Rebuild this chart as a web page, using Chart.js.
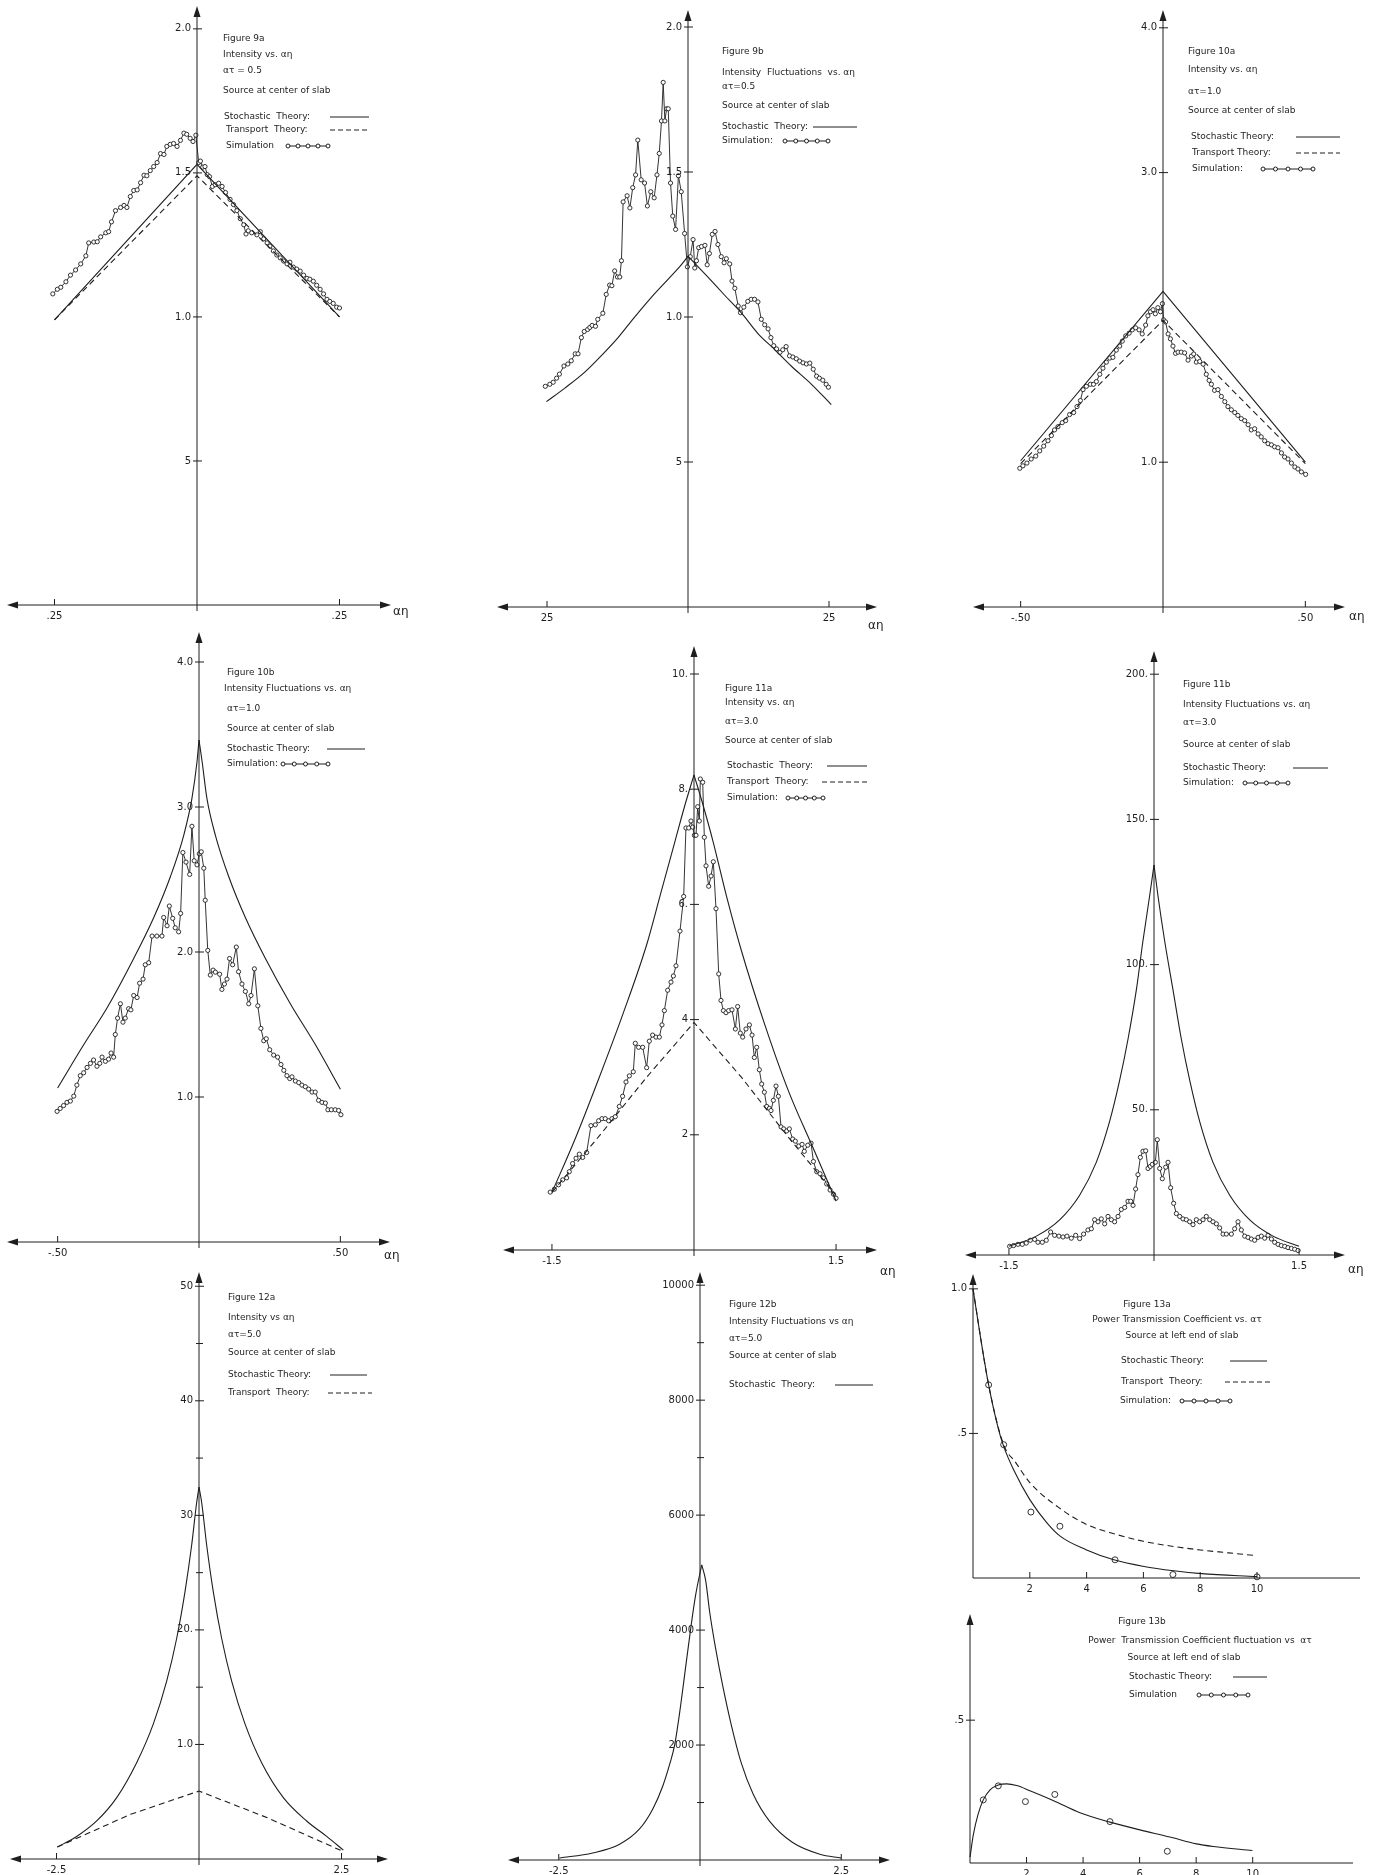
<!DOCTYPE html>
<html>
<head>
<meta charset="utf-8">
<script src="https://cdn.jsdelivr.net/npm/chart.js@4.4.0/dist/chart.umd.min.js"></script>
<style>
  html, body { margin: 0; padding: 0; background: #fff; }
  #page { position: relative; width: 1377px; height: 1875px; overflow: hidden; background: #fff; }
  #page canvas { position: absolute; }
</style>
</head>
<body>
<div id="page"></div>
<script>
// ---- Figure 9a : intensity, at = 0.5
const stoch9aX = [-0.25, 0, 0.25];
const stoch9aY = [0.99, 1.53, 1.0];
const trans9aX = [-0.25, 0, 0.25];
const trans9aY = [0.99, 1.49, 1.0];
const sim9aX = [-0.253,-0.245,-0.239,-0.230,-0.222,-0.213,-0.204,-0.195,-0.190,-0.181,
  -0.175,-0.169,-0.160,-0.155,-0.150,-0.143,-0.134,-0.128,-0.123,-0.117,
  -0.111,-0.105,-0.099,-0.093,-0.088,-0.082,-0.076,-0.070,-0.064,-0.058,
  -0.053,-0.047,-0.041,-0.035,-0.029,-0.023,-0.018,-0.012,-0.007,-0.002,
  0.003,0.006,0.010,0.014,0.018,0.022,0.027,0.032,0.038,0.044,
  0.050,0.058,0.064,0.070,0.076,0.082,0.086,0.090,0.096,0.105,
  0.111,0.117,0.123,0.128,0.134,0.140,0.146,0.152,0.158,0.163,
  0.169,0.175,0.181,0.187,0.193,0.198,0.204,0.210,0.216,0.222,
  0.228,0.233,0.239,0.245,0.250];
const sim9aY = [1.080,1.096,1.103,1.122,1.145,1.163,1.184,1.212,1.257,1.260,
  1.261,1.278,1.292,1.296,1.330,1.369,1.380,1.387,1.380,1.418,
  1.439,1.441,1.466,1.492,1.490,1.508,1.522,1.536,1.567,1.564,
  1.592,1.599,1.602,1.592,1.613,1.638,1.634,1.620,1.609,1.631,
  1.536,1.541,1.520,1.522,1.494,1.487,1.453,1.459,1.464,1.453,
  1.432,1.408,1.390,1.369,1.341,1.320,1.288,1.299,1.292,1.285,
  1.296,1.271,1.257,1.246,1.229,1.215,1.205,1.194,1.184,1.190,
  1.173,1.166,1.159,1.145,1.134,1.131,1.124,1.110,1.096,1.080,
  1.061,1.054,1.047,1.034,1.031];

// ---- Figure 9b : intensity fluctuations, at = 0.5
const stoch9bX = [-0.251,-0.219,-0.183,-0.154,-0.124,-0.095,-0.065,-0.035,-0.012,0,0.035,0.065,0.095,0.124,0.154,0.183,0.219,0.254];
const stoch9bY = [0.708,0.754,0.810,0.866,0.929,0.999,1.068,1.131,1.180,1.21,1.138,1.075,1.013,0.943,0.887,0.831,0.768,0.698];
const sim9bX = [-0.253,-0.245,-0.239,-0.233,-0.228,-0.220,-0.213,-0.207,-0.200,-0.195,
  -0.189,-0.184,-0.178,-0.174,-0.170,-0.164,-0.160,-0.151,-0.145,-0.139,
  -0.135,-0.130,-0.125,-0.121,-0.118,-0.115,-0.108,-0.103,-0.098,-0.093,
  -0.089,-0.083,-0.077,-0.072,-0.066,-0.060,-0.055,-0.051,-0.047,-0.044,
  -0.041,-0.038,-0.035,-0.031,-0.027,-0.022,-0.017,-0.012,-0.006,-0.001,
  0.004,0.009,0.012,0.015,0.019,0.024,0.030,0.034,0.038,0.043,
  0.048,0.053,0.059,0.064,0.068,0.074,0.078,0.083,0.089,0.093,
  0.099,0.106,0.112,0.118,0.124,0.130,0.136,0.142,0.147,0.152,
  0.157,0.163,0.168,0.174,0.180,0.186,0.192,0.198,0.204,0.210,
  0.216,0.222,0.228,0.233,0.239,0.245,0.249];
const sim9bY = [0.761,0.768,0.775,0.789,0.803,0.831,0.838,0.849,0.873,0.873,
  0.929,0.950,0.957,0.964,0.971,0.968,0.992,1.013,1.078,1.110,
  1.108,1.159,1.138,1.138,1.194,1.397,1.418,1.376,1.446,1.490,
  1.610,1.473,1.462,1.383,1.432,1.411,1.490,1.564,1.676,1.809,
  1.676,1.718,1.718,1.462,1.348,1.302,1.487,1.432,1.288,1.173,
  1.208,1.267,1.169,1.194,1.239,1.243,1.247,1.180,1.219,1.285,
  1.295,1.250,1.208,1.187,1.201,1.183,1.124,1.099,1.038,1.015,
  1.034,1.054,1.061,1.061,1.052,0.992,0.973,0.959,0.929,0.901,
  0.890,0.878,0.887,0.898,0.866,0.862,0.856,0.848,0.842,0.838,
  0.841,0.820,0.796,0.789,0.782,0.768,0.758];

// ---- Figure 10a : intensity, at = 1.0
const stoch10aX = [-0.5, 0, 0.5];
const stoch10aY = [1.01, 2.18, 1.0];
const trans10aX = [-0.5, 0, 0.5];
const trans10aY = [0.99, 1.98, 0.99];
const sim10aX = [-0.503,-0.492,-0.478,-0.463,-0.447,-0.433,-0.419,-0.404,-0.392,-0.381,
  -0.369,-0.354,-0.342,-0.328,-0.314,-0.302,-0.290,-0.281,-0.269,-0.255,
  -0.244,-0.234,-0.222,-0.211,-0.199,-0.187,-0.176,-0.164,-0.152,-0.143,
  -0.131,-0.119,-0.108,-0.096,-0.084,-0.073,-0.061,-0.053,-0.044,-0.035,
  -0.027,-0.018,-0.009,-0.002,
  0.002,0.009,0.018,0.026,0.035,0.044,0.053,0.064,0.076,0.088,
  0.100,0.108,0.117,0.129,0.141,0.152,0.162,0.170,0.181,0.193,
  0.205,0.217,0.228,0.240,0.252,0.263,0.275,0.287,0.299,0.310,
  0.322,0.334,0.345,0.357,0.369,0.381,0.392,0.404,0.416,0.427,
  0.439,0.451,0.463,0.474,0.486,0.501];
const sim10aY = [0.958,0.975,0.994,1.022,1.042,1.078,1.111,1.148,1.184,1.223,
  1.245,1.273,1.287,1.329,1.343,1.384,1.426,1.501,1.524,1.538,
  1.538,1.557,1.607,1.649,1.691,1.719,1.724,1.774,1.802,1.836,
  1.872,1.891,1.914,1.928,1.914,1.886,1.947,2.011,2.039,2.053,
  2.025,2.067,2.039,2.095,
  1.983,1.969,1.886,1.852,1.802,1.752,1.760,1.760,1.755,1.705,
  1.733,1.747,1.691,1.696,1.677,1.607,1.565,1.538,1.496,1.501,
  1.454,1.418,1.384,1.362,1.343,1.323,1.301,1.287,1.259,1.223,
  1.231,1.195,1.175,1.148,1.128,1.120,1.106,1.100,1.064,1.036,
  1.022,0.994,0.967,0.953,0.933,0.916];

// ---- Figure 10b : intensity fluctuations, at = 1.0
const stoch10bX = [-0.5,-0.408,-0.325,-0.231,-0.160,-0.101,-0.054,-0.025,-0.007,0,0.011,0.028,0.058,0.105,0.164,0.235,0.323,0.412,0.5];
const stoch10bY = [1.062,1.360,1.615,1.955,2.238,2.521,2.805,3.059,3.314,3.462,3.314,3.059,2.805,2.521,2.238,1.955,1.643,1.360,1.054];
const sim10bX = [-0.502,-0.491,-0.479,-0.467,-0.455,-0.443,-0.432,-0.420,-0.408,-0.396,
  -0.384,-0.373,-0.361,-0.351,-0.343,-0.331,-0.320,-0.311,-0.302,-0.296,
  -0.288,-0.278,-0.269,-0.261,-0.249,-0.241,-0.231,-0.219,-0.210,-0.198,
  -0.190,-0.178,-0.166,-0.149,-0.131,-0.125,-0.113,-0.105,-0.093,-0.084,
  -0.072,-0.065,-0.057,-0.046,-0.033,-0.025,-0.017,-0.007,0.001,0.008,
  0.017,0.022,0.031,0.040,0.050,0.058,0.073,0.081,0.090,0.099,
  0.108,0.119,0.132,0.140,0.152,0.164,0.176,0.184,0.196,0.208,
  0.219,0.229,0.238,0.250,0.264,0.278,0.290,0.300,0.311,0.321,
  0.329,0.341,0.353,0.364,0.376,0.388,0.400,0.411,0.423,0.435,
  0.447,0.456,0.468,0.482,0.494,0.502];
const sim10bY = [0.901,0.921,0.941,0.963,0.972,1.006,1.082,1.147,1.167,1.204,
  1.232,1.255,1.212,1.232,1.275,1.246,1.261,1.303,1.275,1.431,
  1.544,1.643,1.516,1.544,1.609,1.601,1.700,1.686,1.785,1.813,
  1.912,1.926,2.110,2.110,2.110,2.238,2.181,2.317,2.232,2.167,
  2.139,2.266,2.686,2.620,2.535,2.867,2.629,2.601,2.677,2.691,
  2.578,2.357,2.011,1.841,1.875,1.861,1.847,1.742,1.779,1.813,
  1.955,1.912,2.034,1.864,1.779,1.728,1.643,1.700,1.884,1.629,
  1.473,1.388,1.402,1.326,1.289,1.275,1.224,1.184,1.147,1.127,
  1.139,1.110,1.099,1.082,1.071,1.054,1.034,1.034,0.977,0.963,
  0.958,0.912,0.912,0.912,0.907,0.878];

// ---- Figure 11a : intensity, at = 3.0
const stoch11aX = [-1.5,-1.25,-1.0,-0.75,-0.5,-0.35,-0.2,-0.1,0,0.1,0.2,0.35,0.5,0.75,1.0,1.25,1.5];
const stoch11aY = [1.0,1.95,3.0,4.1,5.3,6.2,7.1,7.7,8.25,7.7,7.1,6.1,5.2,3.9,2.75,1.8,0.85];
const trans11aX = [-1.5,-1.0,-0.5,0,0.5,1.0,1.5];
const trans11aY = [1.0,1.98,3.0,3.95,3.0,1.95,0.95];
const sim11aX = [-1.518,-1.475,-1.430,-1.387,-1.345,-1.317,-1.282,-1.246,-1.211,-1.176,
  -1.134,-1.088,-1.042,-1.007,-0.972,-0.937,-0.901,-0.866,-0.831,-0.789,
  -0.754,-0.718,-0.683,-0.641,-0.620,-0.585,-0.542,-0.500,-0.472,-0.437,
  -0.401,-0.366,-0.338,-0.313,-0.278,-0.243,-0.218,-0.190,-0.148,-0.109,
  -0.085,-0.056,-0.032,-0.014,0.004,0.021,0.039,0.056,0.067,0.092,
  0.109,0.127,0.155,0.180,0.204,0.232,0.261,0.285,0.310,0.338,
  0.366,0.401,0.437,0.461,0.489,0.514,0.549,0.585,0.613,0.637,
  0.662,0.690,0.715,0.743,0.768,0.796,0.813,0.838,0.866,0.891,
  0.919,0.947,0.979,1.007,1.042,1.070,1.106,1.141,1.165,1.201,
  1.236,1.261,1.296,1.331,1.366,1.401,1.437,1.472,1.500];
const sim11aY = [1.005,1.055,1.133,1.218,1.253,1.359,1.501,1.593,1.664,1.607,
  1.692,2.159,2.173,2.244,2.280,2.280,2.244,2.280,2.315,2.492,
  2.669,2.917,3.023,3.094,3.589,3.519,3.519,3.165,3.625,3.731,
  3.696,3.696,3.908,4.156,4.510,4.651,4.757,4.934,5.536,6.138,
  7.327,7.327,7.448,7.342,7.200,7.200,7.696,7.448,8.177,8.120,
  7.165,6.669,6.315,6.492,6.740,5.926,4.793,4.333,4.156,4.120,
  4.156,4.170,3.837,4.227,3.766,3.696,3.837,3.908,3.731,3.342,
  3.519,3.129,2.881,2.740,2.492,2.457,2.421,2.598,2.846,2.669,
  2.138,2.103,2.067,2.103,1.926,1.890,1.805,1.834,1.713,1.819,
  1.855,1.536,1.359,1.324,1.253,1.147,1.041,0.970,0.899];

// ---- Figure 11b : intensity fluctuations, at = 3.0
const stoch11bX = [-1.5,-1.217,-0.976,-0.769,-0.597,-0.459,-0.355,-0.269,-0.183,-0.114,-0.045,0,0.041,0.110,0.197,0.283,0.369,0.472,0.610,0.783,0.990,1.231,1.5];
const stoch11bY = [3.0,6.5,12.1,20.6,31.9,46.0,60.2,74.3,91.2,108.2,123.7,134.3,123.7,108.2,91.2,74.3,60.2,46.0,31.9,20.6,12.1,6.5,3.0];
const sim11bX = [-1.493,-1.452,-1.407,-1.362,-1.321,-1.279,-1.234,-1.200,-1.155,-1.114,
  -1.069,-1.028,-0.983,-0.941,-0.900,-0.855,-0.810,-0.769,-0.728,-0.683,
  -0.648,-0.614,-0.579,-0.545,-0.510,-0.476,-0.441,-0.407,-0.372,-0.338,
  -0.303,-0.269,-0.241,-0.217,-0.190,-0.166,-0.141,-0.114,-0.086,-0.062,
  -0.038,-0.017,0.014,0.034,0.059,0.086,0.121,0.145,0.172,0.203,
  0.231,0.266,0.300,0.334,0.369,0.403,0.438,0.472,0.507,0.541,
  0.576,0.610,0.645,0.679,0.714,0.748,0.800,0.834,0.869,0.903,
  0.938,0.972,1.007,1.041,1.076,1.110,1.145,1.179,1.214,1.248,
  1.283,1.317,1.352,1.386,1.421,1.455,1.490];
const sim11bY = [2.97,3.25,3.67,3.67,4.10,5.08,5.37,4.38,4.38,5.08,
  7.91,6.78,6.50,6.21,6.50,5.79,6.78,5.65,7.20,8.62,
  9.04,12.15,11.44,12.43,10.73,13.28,12.15,11.44,13.28,15.68,
  16.38,18.50,18.50,17.09,22.74,27.68,33.62,35.73,35.88,29.80,
  30.51,31.21,31.92,39.69,29.80,26.27,30.23,31.92,23.16,17.80,
  14.27,13.28,12.43,12.15,11.44,10.45,12.15,11.44,12.15,13.28,
  12.15,11.44,10.73,9.32,7.20,7.20,7.20,9.04,11.44,8.62,
  6.50,6.07,5.51,5.08,6.07,6.50,5.79,6.78,5.51,4.38,
  3.67,3.25,2.97,2.54,2.26,1.98,1.55];

// ---- Figure 12a : intensity, at = 5.0
const stoch12aX = [-2.485,-2.146,-1.795,-1.444,-1.094,-0.801,-0.567,-0.392,-0.246,-0.129,-0.041,0,0.047,0.135,0.251,0.398,0.573,0.807,1.099,1.480,1.889,2.240,2.532];
const stoch12aY = [1.05,1.97,3.32,5.36,8.41,11.80,15.53,19.25,23.32,27.39,31.12,32.47,31.12,27.39,23.32,19.25,15.53,11.80,8.41,5.36,3.32,1.97,0.78];
const trans12aX = [-2.485,-1.2,0,1.2,2.532];
const trans12aY = [1.05,3.9,5.93,3.6,0.65];

// ---- Figure 12b : intensity fluctuations, at = 5.0
const stoch12bX = [-2.49,-1.90,-1.43,-1.07,-0.84,-0.66,-0.53,-0.45,-0.35,-0.26,-0.17,-0.08,0.03,0.10,0.17,0.27,0.40,0.55,0.73,0.94,1.23,1.64,2.12,2.50];
const stoch12bY = [34,122,270,540,878,1284,1689,1993,2635,3311,3987,4595,5135,4865,4324,3716,3041,2365,1689,1149,676,304,101,34];

// ---- Figure 13a : power transmission coefficient vs at
const stoch13aX = [0,0.26,0.55,0.9,1.08,1.43,2.0,2.61,3.08,3.98,4.96,6.02,7.07,8.05,10.0];
const stoch13aY = [1.0,0.835,0.668,0.513,0.455,0.374,0.271,0.190,0.144,0.098,0.063,0.040,0.025,0.015,0.005];
const trans13aX = [0,0.55,1.08,1.5,2.0,3.0,4.0,5.0,6.0,7.0,8.0,9.0,10.0];
const trans13aY = [1.0,0.668,0.461,0.40,0.33,0.245,0.185,0.152,0.127,0.11,0.097,0.087,0.077];
const sim13aX = [0.55,1.08,2.04,3.06,5.0,7.04,10.0];
const sim13aY = [0.668,0.461,0.228,0.179,0.063,0.012,0.004];

// ---- Figure 13b : power transmission coefficient fluctuation vs at
const stoch13bX = [0,0.12,0.29,0.47,0.71,1.0,1.30,1.65,2.12,2.94,3.89,4.95,6.01,7.07,8.01,8.6,9.99];
const stoch13bY = [0.02,0.10,0.172,0.221,0.256,0.273,0.277,0.271,0.253,0.219,0.176,0.143,0.116,0.091,0.067,0.058,0.044];
const sim13bX = [0.47,1.0,1.96,3.0,4.95,6.98];
const sim13bY = [0.221,0.27,0.215,0.240,0.145,0.041];

// tick values and labels as printed on the sheet
const yTicks9 = [2.0, 1.5, 1.0, 0.5];
const yLabels9 = ['2.0', '1.5', '1.0', '5'];
const yTicks10a = [4, 3, 1];
const yLabels10a = ['4.0', '3.0', '1.0'];
const yTicks10b = [4, 3, 2, 1];
const yLabels10b = ['4.0', '3.0', '2.0', '1.0'];
const yTicks11a = [10, 8, 6, 4, 2];
const yLabels11a = ['10.', '8.', '6.', '4', '2'];
const yTicks11b = [200, 150, 100, 50];
const yLabels11b = ['200.', '150.', '100.', '50.'];
const yTicks12a = [50, 40, 30, 20, 10];
const yLabels12a = ['50', '40', '30', '20.', '1.0'];
const yMinor12a = [45, 35, 25, 15];
const yTicks12b = [10000, 8000, 6000, 4000, 2000];
const yLabels12b = ['10000', '8000', '6000', '4000', '2000'];
const yMinor12b = [9000, 7000, 3000, 1000];
const yTicks13a = [1.0, 0.5];
const yLabels13a = ['1.0', '.5'];
const yTicks13b = [0.5];
const yLabels13b = ['.5'];
const xTicks9 = [-0.25, 0.25];
const xLabels9a = ['.25', '.25'];
const xLabels9b = ['25', '25'];
const xTicks10 = [-0.5, 0.5];
const xLabels10 = ['-.50', '.50'];
const xTicks11 = [-1.5, 1.5];
const xLabels11 = ['-1.5', '1.5'];
const xTicks12 = [-2.5, 2.5];
const xLabels12 = ['-2.5', '2.5'];
const xTicks13 = [2, 4, 6, 8, 10];
const xLabels13 = ['2', '4', '6', '8', '10'];

const INK = '#1e1e1e';
const TEXT_FONT = '9px "DejaVu Sans", sans-serif';
const TICK_FONT = '10px "DejaVu Sans", sans-serif';
const AXIS_FONT = '12px "DejaVu Sans", sans-serif';

const pts = (xs, ys) => xs.map((x, i) => ({ x: x, y: ys[i] }));

const stochastic = (xs, ys, smooth) => ({
  data: pts(xs, ys), showLine: true, borderColor: INK, borderWidth: 1.1,
  pointRadius: 0, tension: smooth ? 0.4 : 0,
  cubicInterpolationMode: smooth ? 'monotone' : 'default', clip: false
});
const transport = (xs, ys, smooth) => Object.assign(stochastic(xs, ys, smooth), { borderDash: [6, 4] });

// a curved theory line with a sharp peak: each flank is smoothed on its own
const cusp = (xs, ys) => {
  const all = pts(xs, ys);
  const top = ys.indexOf(Math.max(...ys));
  return [all.slice(0, top + 1), all.slice(top)].map(part =>
    Object.assign(stochastic(xs, ys, true), { data: part }));
};

const simulation = (xs, ys, joined) => ({
  data: pts(xs, ys), showLine: joined, borderColor: INK, borderWidth: 0.9,
  pointRadius: joined ? 2.1 : 3, pointBackgroundColor: '#fff',
  pointBorderColor: INK, pointBorderWidth: 0.9, tension: 0, clip: false
});

// page layout of every panel: origin of the axes (ox, oy), pixels per unit, arrow extents
const panels = [
  { id: 'f9a', ox: 197, oy: 605, sx: 570, sy: 288.5, box: [7, 5, 391, 605], m: [6, 4, 36, 22],
    datasets: [stochastic(stoch9aX, stoch9aY), transport(trans9aX, trans9aY), simulation(sim9aX, sim9aY, true)],
    yTicks: yTicks9, yLabels: yLabels9, xTicks: xTicks9, xLabels: xLabels9a, axisLabel: [393, 612],
    lines: [['Figure 9a', 223, 39], ['Intensity vs. \u03b1\u03b7', 223, 55], ['\u03b1\u03c4 = 0.5', 223, 71],
      ['Source at center of slab', 223, 91], ['Stochastic  Theory:', 224, 117], ['Transport  Theory:', 226, 130], ['Simulation', 226, 146]],
    samples: [['solid', 330, 369, 117], ['dashed', 330, 369, 130], ['sim', 288, 328, 146]] },
  { id: 'f9b', ox: 688, oy: 607, sx: 564, sy: 290, box: [497, 10, 877, 607], m: [8, 8, 30, 24],
    datasets: [...cusp(stoch9bX, stoch9bY), simulation(sim9bX, sim9bY, true)],
    yTicks: yTicks9, yLabels: yLabels9, xTicks: xTicks9, xLabels: xLabels9b, axisLabel: [868, 626],
    lines: [['Figure 9b', 722, 52], ['Intensity  Fluctuations  vs. \u03b1\u03b7', 722, 73], ['\u03b1\u03c4=0.5', 722, 87],
      ['Source at center of slab', 722, 106], ['Stochastic  Theory:', 722, 127], ['Simulation:', 722, 141]],
    samples: [['solid', 813, 857, 127], ['sim', 785, 828, 141]] },
  { id: 'f10a', ox: 1163, oy: 607, sx: 284.7, sy: 144.8, box: [973, 10, 1345, 607], m: [8, 8, 30, 22],
    datasets: [stochastic(stoch10aX, stoch10aY), transport(trans10aX, trans10aY), simulation(sim10aX, sim10aY, true)],
    yTicks: yTicks10a, yLabels: yLabels10a, xTicks: xTicks10, xLabels: xLabels10, axisLabel: [1349, 617],
    lines: [['Figure 10a', 1188, 52], ['Intensity vs. \u03b1\u03b7', 1188, 70], ['\u03b1\u03c4=1.0', 1188, 92],
      ['Source at center of slab', 1188, 111], ['Stochastic Theory:', 1191, 137], ['Transport Theory:', 1192, 153], ['Simulation:', 1192, 169]],
    samples: [['solid', 1296, 1340, 137], ['dashed', 1296, 1340, 153], ['sim', 1263, 1313, 169]] },
  { id: 'f10b', ox: 199, oy: 1242, sx: 282.7, sy: 145, box: [7, 632, 390, 1242], m: [6, 6, 30, 22],
    datasets: [...cusp(stoch10bX, stoch10bY), simulation(sim10bX, sim10bY, true)],
    yTicks: yTicks10b, yLabels: yLabels10b, xTicks: xTicks10, xLabels: xLabels10, axisLabel: [384, 1256],
    lines: [['Figure 10b', 227, 673], ['Intensity Fluctuations vs. \u03b1\u03b7', 224, 689], ['\u03b1\u03c4=1.0', 227, 709],
      ['Source at center of slab', 227, 729], ['Stochastic Theory:', 227, 749], ['Simulation:', 227, 764]],
    samples: [['solid', 327, 365, 749], ['sim', 283, 328, 764]] },
  { id: 'f11a', ox: 694, oy: 1250, sx: 94.7, sy: 57.6, box: [503, 646, 877, 1250], m: [8, 8, 30, 30],
    datasets: [...cusp(stoch11aX, stoch11aY), transport(trans11aX, trans11aY), simulation(sim11aX, sim11aY, true)],
    yTicks: yTicks11a, yLabels: yLabels11a, xTicks: xTicks11, xLabels: xLabels11, axisLabel: [880, 1272],
    lines: [['Figure 11a', 725, 689], ['Intensity vs. \u03b1\u03b7', 725, 703], ['\u03b1\u03c4=3.0', 725, 722],
      ['Source at center of slab', 725, 741], ['Stochastic  Theory:', 727, 766], ['Transport  Theory:', 727, 782], ['Simulation:', 727, 798]],
    samples: [['solid', 827, 867, 766], ['dashed', 822, 870, 782], ['sim', 788, 823, 798]] },
  { id: 'f11b', ox: 1154, oy: 1255, sx: 96.7, sy: 2.904, box: [965, 651, 1345, 1255], m: [8, 8, 30, 22],
    datasets: [...cusp(stoch11bX, stoch11bY), simulation(sim11bX, sim11bY, true)],
    yTicks: yTicks11b, yLabels: yLabels11b, xTicks: xTicks11, xLabels: xLabels11, axisLabel: [1348, 1270],
    lines: [['Figure 11b', 1183, 685], ['Intensity Fluctuations vs. \u03b1\u03b7', 1183, 705], ['\u03b1\u03c4=3.0', 1183, 723],
      ['Source at center of slab', 1183, 745], ['Stochastic Theory:', 1183, 768], ['Simulation:', 1183, 783]],
    samples: [['solid', 1293, 1328, 768], ['sim', 1245, 1288, 783]] },
  { id: 'f12a', ox: 199, oy: 1859, sx: 57, sy: 11.455, box: [10, 1272, 388, 1859], m: [8, 4, 30, 16],
    datasets: [...cusp(stoch12aX, stoch12aY), transport(trans12aX, trans12aY)],
    yTicks: yTicks12a, yLabels: yLabels12a, yMinor: yMinor12a, xTicks: xTicks12, xLabels: xLabels12,
    lines: [['Figure 12a', 228, 1298], ['Intensity vs \u03b1\u03b7', 228, 1318], ['\u03b1\u03c4=5.0', 228, 1335],
      ['Source at center of slab', 228, 1353], ['Stochastic Theory:', 228, 1375], ['Transport  Theory:', 228, 1393]],
    samples: [['solid', 330, 367, 1375], ['dashed', 328, 372, 1393]] },
  { id: 'f12b', ox: 700, oy: 1860, sx: 56.5, sy: 0.05748, box: [508, 1272, 890, 1860], m: [8, 4, 30, 15],
    datasets: [...cusp(stoch12bX, stoch12bY)],
    yTicks: yTicks12b, yLabels: yLabels12b, yMinor: yMinor12b, xTicks: xTicks12, xLabels: xLabels12,
    lines: [['Figure 12b', 729, 1305], ['Intensity Fluctuations vs \u03b1\u03b7', 729, 1322], ['\u03b1\u03c4=5.0', 729, 1339],
      ['Source at center of slab', 729, 1356], ['Stochastic  Theory:', 729, 1385]],
    samples: [['solid', 835, 873, 1385]] },
  { id: 'f13a', ox: 973, oy: 1578, sx: 28.4, sy: 290, box: [973, 1273, 1360, 1578], m: [40, 4, 15, 20], corner: true,
    datasets: [stochastic(stoch13aX, stoch13aY, true), transport(trans13aX, trans13aY, true), simulation(sim13aX, sim13aY, false)],
    yTicks: yTicks13a, yLabels: yLabels13a, xTicks: xTicks13, xLabels: xLabels13,
    lines: [['Figure 13a', 1147, 1305, 'center'], ['Power Transmission Coefficient vs. \u03b1\u03c4', 1177, 1320, 'center'],
      ['Source at left end of slab', 1182, 1336, 'center'], ['Stochastic Theory:', 1121, 1361], ['Transport  Theory:', 1121, 1382], ['Simulation:', 1120, 1401]],
    samples: [['solid', 1230, 1267, 1361], ['dashed', 1225, 1270, 1382], ['sim', 1182, 1230, 1401]] },
  { id: 'f13b', ox: 970, oy: 1863, sx: 28.27, sy: 286.7, box: [970, 1613, 1353, 1863], m: [40, 4, 20, 12], corner: true,
    datasets: [stochastic(stoch13bX, stoch13bY, true), simulation(sim13bX, sim13bY, false)],
    yTicks: yTicks13b, yLabels: yLabels13b, xTicks: xTicks13, xLabels: xLabels13,
    lines: [['Figure 13b', 1142, 1622, 'center'], ['Power  Transmission Coefficient fluctuation vs  \u03b1\u03c4', 1200, 1641, 'center'],
      ['Source at left end of slab', 1184, 1658, 'center'], ['Stochastic Theory:', 1129, 1677], ['Simulation', 1129, 1695]],
    samples: [['solid', 1233, 1267, 1677], ['sim', 1199, 1248, 1695]] }
];

const arrow = (ctx, x, y, dir) => {
  ctx.beginPath();
  ctx.moveTo(x, y);
  if (dir === 'up') { ctx.lineTo(x - 3.5, y + 11); ctx.lineTo(x + 3.5, y + 11); }
  if (dir === 'left') { ctx.lineTo(x + 11, y - 3.5); ctx.lineTo(x + 11, y + 3.5); }
  if (dir === 'right') { ctx.lineTo(x - 11, y - 3.5); ctx.lineTo(x - 11, y + 3.5); }
  ctx.closePath();
  ctx.fill();
};

// draws the hand-lettered axes, ticks, captions and legend keys of one panel
const paperPlugin = (p, left, top) => ({
  id: 'paper_' + p.id,
  afterDraw(chart) {
    const ctx = chart.ctx;
    const xs = chart.scales.x, ys = chart.scales.y, a = chart.chartArea;
    const X0 = xs.getPixelForValue(0), Y0 = ys.getPixelForValue(0);
    ctx.save();
    ctx.strokeStyle = INK;
    ctx.fillStyle = INK;
    ctx.lineWidth = 1;

    ctx.beginPath();
    if (p.corner) {
      ctx.moveTo(X0, Y0); ctx.lineTo(a.right, Y0);
      ctx.moveTo(X0, Y0); ctx.lineTo(X0, a.top + 8);
    } else {
      ctx.moveTo(a.left + 8, Y0); ctx.lineTo(a.right - 8, Y0);
      ctx.moveTo(X0, Y0 + 6); ctx.lineTo(X0, a.top + 8);
    }
    ctx.stroke();
    arrow(ctx, X0, a.top, 'up');
    if (!p.corner) {
      arrow(ctx, a.left, Y0, 'left');
      arrow(ctx, a.right, Y0, 'right');
    }

    ctx.font = TICK_FONT;
    ctx.textAlign = 'right';
    ctx.textBaseline = 'middle';
    p.yTicks.forEach((v, i) => {
      const y = ys.getPixelForValue(v);
      ctx.beginPath(); ctx.moveTo(X0 - 4, y); ctx.lineTo(X0 + 5, y); ctx.stroke();
      ctx.fillText(p.yLabels[i], X0 - 6, y);
    });
    (p.yMinor || []).forEach(v => {
      const y = ys.getPixelForValue(v);
      ctx.beginPath(); ctx.moveTo(X0 - 3, y); ctx.lineTo(X0 + 4, y); ctx.stroke();
    });

    ctx.textAlign = 'center';
    ctx.textBaseline = 'top';
    p.xTicks.forEach((v, i) => {
      const x = xs.getPixelForValue(v);
      ctx.beginPath(); ctx.moveTo(x, Y0); ctx.lineTo(x, Y0 - 6); ctx.stroke();
      ctx.fillText(p.xLabels[i], x, Y0 + 6);
    });

    if (p.axisLabel) {
      ctx.font = AXIS_FONT;
      ctx.textAlign = 'left';
      ctx.textBaseline = 'middle';
      ctx.fillText('\u03b1\u03b7', p.axisLabel[0] - left, p.axisLabel[1] - top);
    }

    ctx.font = TEXT_FONT;
    ctx.textBaseline = 'middle';
    p.lines.forEach(([txt, x, y, align]) => {
      ctx.textAlign = align || 'left';
      ctx.fillText(txt, x - left, y - top);
    });

    p.samples.forEach(([kind, x1, x2, y]) => {
      const ax = x1 - left, bx = x2 - left, yy = y - top;
      ctx.setLineDash(kind === 'dashed' ? [5, 3] : []);
      ctx.beginPath(); ctx.moveTo(ax, yy); ctx.lineTo(bx, yy); ctx.stroke();
      ctx.setLineDash([]);
      if (kind === 'sim') {
        for (let k = 0; k < 5; k++) {
          const cx = ax + (bx - ax) * k / 4;
          ctx.beginPath(); ctx.arc(cx, yy, 2, 0, Math.PI * 2);
          ctx.fillStyle = '#fff'; ctx.fill();
          ctx.stroke();
        }
        ctx.fillStyle = INK;
      }
    });
    ctx.restore();
  }
});

const page = document.getElementById('page');

panels.forEach(p => {
  const [L, T, R, B] = p.box;
  const [ml, mt, mr, mb] = p.m;
  const left = L - ml, top = T - mt;
  const width = R + mr - left, height = B + mb - top;

  const canvas = document.createElement('canvas');
  canvas.id = p.id;
  canvas.width = width;
  canvas.height = height;
  canvas.style.left = left + 'px';
  canvas.style.top = top + 'px';
  canvas.style.width = width + 'px';
  canvas.style.height = height + 'px';
  page.appendChild(canvas);

  new Chart(canvas.getContext('2d'), {
    type: 'scatter',
    data: { datasets: p.datasets },
    options: {
      responsive: false,
      animation: false,
      devicePixelRatio: 1,
      events: [],
      layout: { padding: { left: ml, top: mt, right: mr, bottom: mb } },
      plugins: { legend: { display: false }, tooltip: { enabled: false }, title: { display: false } },
      scales: {
        x: { type: 'linear', display: false, min: (L - p.ox) / p.sx, max: (R - p.ox) / p.sx },
        y: { type: 'linear', display: false, min: (p.oy - B) / p.sy, max: (p.oy - T) / p.sy }
      }
    },
    plugins: [paperPlugin(p, left, top)]
  });
});
</script>
</body>
</html>
